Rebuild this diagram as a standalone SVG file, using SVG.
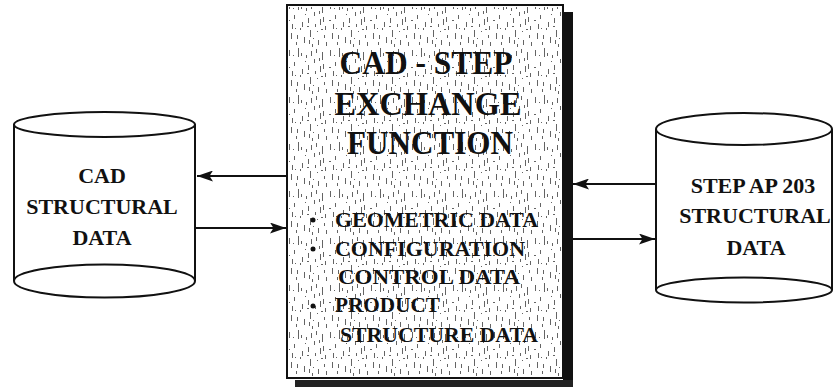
<svg xmlns="http://www.w3.org/2000/svg" width="833" height="388" viewBox="0 0 833 388">
<style>
.ln{fill:none;stroke:#111;stroke-width:2}
.cyl{fill:#fff;stroke:#111;stroke-width:2}
.ct{font-family:"Liberation Serif","Times New Roman",serif;font-weight:bold;font-size:22px;fill:#111;text-anchor:middle}
.bt{font-family:"Liberation Serif","Times New Roman",serif;font-weight:bold;font-size:33px;fill:#111;text-anchor:middle}
.lt{font-family:"Liberation Serif","Times New Roman",serif;font-weight:bold;font-size:21px;fill:#111}
</style>
<defs>
<marker id="ah" viewBox="0 0 16 11" refX="16" refY="5.5" markerWidth="16" markerHeight="11" markerUnits="userSpaceOnUse" orient="auto">
<path d="M0,0 L16,5.5 L0,11 L3.5,5.5 Z" fill="#111"/>
</marker>
<pattern id="spk" width="41" height="47" patternUnits="userSpaceOnUse">
<g fill="#222" fill-opacity="0.7">
<rect x="2" y="3" width="1" height="6"/><rect x="7" y="15" width="1" height="4"/><rect x="11" y="1" width="1" height="9"/>
<rect x="15" y="22" width="1" height="5"/><rect x="19" y="8" width="1" height="3"/><rect x="23" y="30" width="1" height="7"/>
<rect x="27" y="12" width="1" height="4"/><rect x="31" y="40" width="1" height="5"/><rect x="35" y="5" width="1" height="8"/>
<rect x="38" y="26" width="1" height="4"/><rect x="4" y="33" width="1" height="6"/><rect x="9" y="42" width="1" height="3"/>
<rect x="13" y="28" width="1" height="2"/><rect x="17" y="37" width="1" height="6"/><rect x="21" y="18" width="1" height="5"/>
<rect x="25" y="44" width="1" height="3"/><rect x="29" y="2" width="1" height="4"/><rect x="33" y="19" width="1" height="6"/>
<rect x="37" y="35" width="1" height="3"/><rect x="1" y="20" width="2" height="1"/><rect x="20" y="26" width="2" height="1"/>
<rect x="30" y="31" width="1" height="1"/><rect x="6" y="8" width="1" height="1"/><rect x="26" y="38" width="1" height="1"/>
<rect x="5" y="24" width="1" height="5"/><rect x="14" y="6" width="1" height="3"/><rect x="18" y="14" width="1" height="1"/>
<rect x="24" y="4" width="1" height="5"/><rect x="32" y="11" width="1" height="3"/><rect x="36" y="17" width="1" height="5"/>
<rect x="39" y="42" width="1" height="4"/><rect x="10" y="35" width="1" height="4"/><rect x="28" y="24" width="1" height="3"/>
<rect x="34" y="29" width="2" height="1"/><rect x="8" y="28" width="1" height="1"/><rect x="22" y="40" width="1" height="4"/>
</g>
</pattern>
</defs>

<g id="cad-db">
<path class="cyl" d="M14,124 L14,281 A90.5,16.5 0 0 0 195,281 L195,124"/>
<ellipse class="cyl" cx="104.5" cy="124.5" rx="90.5" ry="12.5"/>
<path class="ln" d="M14,281 A90.5,16.5 0 0 1 195,281"/>
<text class="ct" x="102" y="183">CAD</text>
<text class="ct" x="102" y="214">STRUCTURAL</text>
<text class="ct" x="102" y="245">DATA</text>
</g>

<g id="step-db">
<path class="cyl" d="M656,129 L656,290 A88,12.5 0 0 0 832,290 L832,129"/>
<ellipse class="cyl" cx="744" cy="129" rx="88" ry="16"/>
<path class="ln" d="M656,290 A88,12.5 0 0 1 832,290"/>
<text class="ct" x="753" y="193">STEP AP 203</text>
<text class="ct" x="755" y="223">STRUCTURAL</text>
<text class="ct" x="756" y="255">DATA</text>
</g>

<g id="exchange-function">
<rect x="563" y="12" width="10" height="375" fill="#111"/>
<rect x="295" y="380" width="278" height="7" fill="#222"/>
<rect x="287" y="5" width="276" height="373" fill="#fff" stroke="#111" stroke-width="2"/>
<rect x="289" y="7" width="272" height="369" fill="url(#spk)"/>
<text class="bt" x="426" y="74" textLength="173" lengthAdjust="spacingAndGlyphs">CAD - STEP</text>
<text class="bt" x="428" y="115" textLength="187" lengthAdjust="spacingAndGlyphs">EXCHANGE</text>
<text class="bt" x="430" y="154" textLength="166" lengthAdjust="spacingAndGlyphs">FUNCTION</text>
<circle cx="313" cy="220" r="2.5" fill="#111"/>
<circle cx="313" cy="249" r="2.5" fill="#111"/>
<circle cx="313" cy="306" r="2.5" fill="#111"/>
<text class="lt" x="335" y="227" textLength="203" lengthAdjust="spacingAndGlyphs">GEOMETRIC DATA</text>
<text class="lt" x="335" y="256" textLength="190" lengthAdjust="spacingAndGlyphs">CONFIGURATION</text>
<text class="lt" x="338" y="284" textLength="182" lengthAdjust="spacingAndGlyphs">CONTROL DATA</text>
<text class="lt" x="335" y="312" textLength="105" lengthAdjust="spacingAndGlyphs">PRODUCT</text>
<text class="lt" x="340" y="342" textLength="198" lengthAdjust="spacingAndGlyphs">STRUCTURE DATA</text>
</g>

<g id="connectors">
<line class="ln" x1="287" y1="176" x2="197" y2="176" marker-end="url(#ah)"/>
<line class="ln" x1="195" y1="228" x2="286" y2="228" marker-end="url(#ah)"/>
<line class="ln" x1="656" y1="184" x2="573" y2="184" marker-end="url(#ah)"/>
<line class="ln" x1="573" y1="239" x2="655" y2="239" marker-end="url(#ah)"/>
</g>
</svg>
